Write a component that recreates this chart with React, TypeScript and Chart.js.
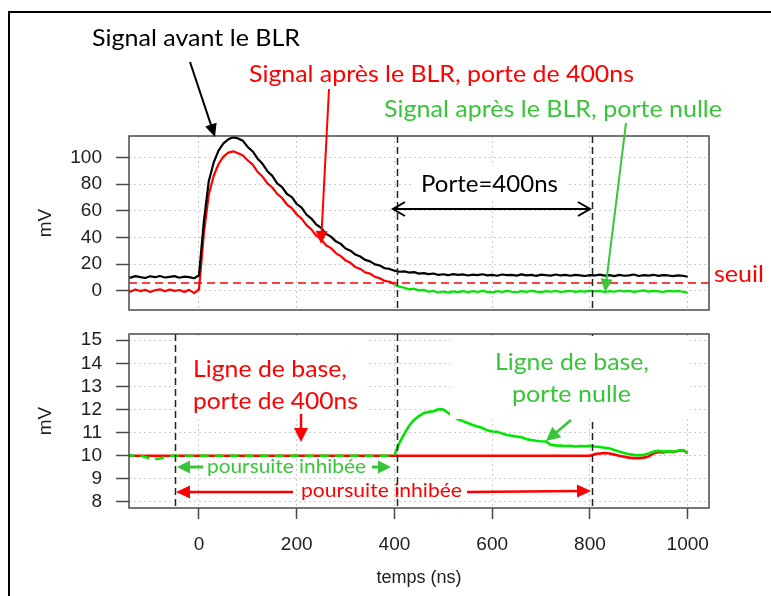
import { useEffect, useRef } from "react";
import { Chart, registerables } from "chart.js";

Chart.register(...registerables);

// ---------- DATA ----------
const times = [
  -150, -140, -130, -120, -110, -100, -90, -80, -70, -60, -50, -40, -30, -20, -10,
  0, 10, 20, 30, 40, 50, 60, 70, 80, 90, 100, 110, 120, 130, 140, 150, 160, 170, 180, 190,
  200, 210, 220, 230, 240, 250, 260, 270, 280, 290, 300, 310, 320, 330, 340, 350, 360, 370, 380, 390,
  400, 410, 420, 430, 440, 450, 460, 470, 480, 490, 500, 510, 520, 530, 540, 550, 560, 570, 580, 590,
  600, 610, 620, 630, 640, 650, 660, 670, 680, 690, 700, 710, 720, 730, 740, 750, 760, 770, 780, 790,
  800, 810, 820, 830, 840, 850, 860, 870, 880, 890, 900, 910, 920, 930, 940, 950, 960, 970, 980, 990,
  1000,
];

// Top panel (mV): signal before BLR, from -150 ns
const topBlack = [
  10.5, 9.8, 10.9, 10.2, 9.5, 10.8, 10.1, 11.0, 9.9, 10.4, 10.9, 9.7, 10.5, 10.2, 9.3,
  11.5, 52, 82, 96, 105, 110.5, 113.5, 115, 114.2, 112.4, 107.6, 104.4, 99.0, 95.1, 89.6, 86.1, 80.5, 77.6, 72.5, 70.1,
  65.0, 62.2, 57.0, 54.1, 49.6, 47.1, 42.6, 40.5, 37.0, 35.1, 31.6, 30.0, 27.1, 25.6, 23.1, 22.0, 19.7, 18.9, 16.8, 16.3,
  15, 14.2, 14.5, 13.6, 13.9, 12.8, 13.2, 12.4, 12.9, 11.8, 12.3, 11.6, 12.4, 11.9, 12.2, 11.4, 12.0, 11.7, 12.3, 11.5,
  11.9, 11.2, 12.1, 11.6, 11.9, 11.3, 12.2, 11.5, 11.8, 11.1, 12.0, 11.6, 11.3, 12.1, 11.4, 11.8, 11.2, 11.9, 11.5, 11.0,
  11.7, 11.4, 12.0, 11.3, 11.6, 10.9, 11.8, 11.2, 11.5, 12.1, 11.0, 11.7, 11.3, 11.9, 11.1, 11.6, 11.4, 10.9, 11.5, 11.2,
  10.4,
];
// Top panel: signal after BLR, gate 400 ns, from -150 ns to 400 ns
const topRed = [
  0.4, -0.7, 0.9, -0.3, 0.6, -1.0, 0.3, 1.0, -0.5, 0.8, -0.2, 0.5, -0.9, 0.6, -1.8,
  1.0, 43, 72, 86, 95, 100.5, 103.5, 104.5, 103.0, 101.4, 97.6, 94.5, 89.0, 85.6, 80.5, 77.4, 72.6, 69.5, 64.6, 61.9,
  57.1, 54.0, 49.1, 46.0, 41.2, 38.5, 34.1, 31.9, 28.2, 25.9, 22.7, 20.9, 17.7, 16.3, 13.7, 12.8, 10.3, 9.3, 7.3, 6.7,
  5,
];
// Top panel: signal after BLR, null gate, from 400 ns
const topGreen = [
  4.5, 3.0, 2.2, 1.0, 1.5, 0.2, 0.6, -0.8, -0.2, -1.4, -0.6, -1.5, -0.5, -1.1, -0.3, -1.2, -0.4, -1.0, -0.2, -0.9,
  -1.3, -0.4, -1.0, -0.2, -0.8, -1.2, -0.3, -0.9, -0.1, -0.7, -1.1, -0.3, -0.8, -0.2, -1.0, -0.5, -0.1, -0.9, -0.4, -0.7,
  0.0, -0.6, -0.2, -1.0, -0.3, -0.8, 0.1, -0.6, -0.2, -0.9, -0.4, 0.2, -0.7, -0.1, -0.5, -1.0, -0.2, -0.6, -0.1, -0.8,
  -1.6,
];
// Bottom panel (mV): baseline, gate 400 ns, from -150 ns
const botRed = [
  10, 10, 10, 10, 10, 10, 10, 10, 10, 10, 10, 10, 10, 10, 10,
  10, 10, 10, 10, 10, 10, 10, 10, 10, 10, 10, 10, 10, 10, 10, 10, 10, 10, 10, 10,
  10, 10, 10, 10, 10, 10, 10, 10, 10, 10, 10, 10, 10, 10, 10, 10, 10, 10, 10, 10,
  10, 10, 10, 10, 10, 10, 10, 10, 10, 10, 10, 10, 10, 10, 10, 10, 10, 10, 10, 10,
  10, 10, 10, 10, 10, 10, 10, 10, 10, 10, 10, 10, 10, 10, 10, 10, 10, 10, 10, 10,
  10.0, 10.07, 10.1, 10.12, 10.1, 10.05, 10.0, 9.96, 9.92, 9.9, 9.9, 9.92, 9.97, 10.1, 10.16, 10.14, 10.19, 10.16, 10.21, 10.24,
  10.12,
];
// Bottom panel: baseline, null gate, from -150 ns
const botGreen = [
  10.0, 10.02, 9.98, 10.0, 9.95, 9.88, 9.86, 9.88, 9.95, 9.99, 10.0, 10, 10, 10, 10,
  10, 10, 10, 10, 10, 10, 10, 10, 10, 10, 10, 10, 10, 10, 10, 10, 10, 10, 10, 10,
  10, 10, 10, 10, 10, 10, 10, 10, 10, 10, 10, 10, 10, 10, 10, 10, 10, 10, 10, 10,
  10.02, 10.55, 10.95, 11.3, 11.55, 11.72, 11.85, 11.9, 11.93, 12.02, 12.0, 11.85, 11.7, 11.58, 11.5, 11.42, 11.33, 11.27, 11.2, 11.1,
  11.05, 11.04, 10.97, 10.9, 10.87, 10.83, 10.8, 10.72, 10.68, 10.65, 10.63, 10.62, 10.47, 10.45, 10.44, 10.42, 10.43, 10.4, 10.42, 10.41,
  10.43, 10.4, 10.38, 10.35, 10.32, 10.25, 10.18, 10.12, 10.07, 10.04, 10.03, 10.04, 10.1, 10.18, 10.22, 10.18, 10.2, 10.17, 10.22, 10.25,
  10.12,
];

const xTicks = [0, 200, 400, 600, 800, 1000];
const yTicksTop = [0, 20, 40, 60, 80, 100];
const yTicksBottom = [8, 9, 10, 11, 12, 13, 14, 15];
const seuil = 5.5;
const gatesTop = [405, 805];
const gatesBottom = [-49, 405, 805];
const dashedStart = 400; // bottom panel: overlap drawn dashed before this time

// ---------- STYLE / LAYOUT ----------
const W = 771;
const H = 596;
const X_MIN = -143.2;
const X_MAX = 1043.6;
const AXIS_FONT = "'Liberation Sans', Arial, Helvetica, sans-serif";
const NOTE_FONT = "Lato, 'Open Sans', 'Noto Sans', sans-serif";
const GRID = "#cdcdcd";
const AXIS = "#4a4a4a";
const LABEL = "#202020";
const RED = "#ff0000";
const LINE_GREEN = "#00e600";
const NOTE_GREEN = "#38c638";

function series(values: number[], startTime: number) {
  const s = times.indexOf(startTime);
  return values.map((v, i) => ({ x: times[s + i], y: v }));
}

// text annotations: text, left, right, baseline, size, color
const notes: [string, number, number, number, number, string][] = [
  ["Signal avant le BLR", 92, 300, 46, 24, "#000"],
  ["Signal après le BLR, porte de 400ns", 249, 634, 82, 24, RED],
  ["Signal après le BLR, porte nulle", 384, 722, 117, 24, NOTE_GREEN],
  ["Porte=400ns", 421, 558, 192, 24, "#000"],
  ["seuil", 714, 764, 282, 24, RED],
  ["Ligne de base,", 193, 347, 377, 24, RED],
  ["porte de 400ns", 193, 358, 409, 24, RED],
  ["Ligne de base,", 495, 649, 370, 24, NOTE_GREEN],
  ["porte nulle", 512, 631, 402, 24, NOTE_GREEN],
  ["poursuite inhibée", 207, 366, 473, 20, NOTE_GREEN],
  ["poursuite inhibée", 301, 462, 497, 20, RED],
];
// arrows: x1, y1, x2(tip), y2(tip), color, width, headLen, headHalf, open
const arrows: [number, number, number, number, string, number, number, number, boolean][] = [
  [190, 62, 215, 137, "#000", 2, 13, 6, false],
  [329, 89, 321, 244, RED, 2, 13, 6, false],
  [626, 123, 605, 292, NOTE_GREEN, 2, 13, 6, false],
  [491, 209, 393, 209, "#000", 2, 12, 7, true],
  [491, 209, 590, 209, "#000", 2, 12, 7, true],
  [301, 414, 301, 442, RED, 2.5, 14, 7, false],
  [571, 420, 546, 441, NOTE_GREEN, 2.5, 14, 7, false],
  [203, 467, 177, 467, NOTE_GREEN, 3, 13, 6.5, false],
  [372, 467, 391, 467, NOTE_GREEN, 3, 13, 6.5, false],
  [293, 492, 176, 492, RED, 2.5, 14, 6.5, false],
  [467, 492, 591, 491, RED, 2.5, 14, 6.5, false],
];
const whiteBoxesTop = [[414, 163, 568, 201]];
const whiteBoxesBottom = [
  [178, 336, 366, 416],
  [450, 336, 690, 419],
];

function fitText(ctx: CanvasRenderingContext2D, t: string, x1: number, x2: number, base: number, size: number, color: string) {
  ctx.save();
  ctx.font = `${size}px ${NOTE_FONT}`;
  const w = ctx.measureText(t).width;
  ctx.translate(x1, base);
  ctx.scale((x2 - x1) / w, 1);
  ctx.fillStyle = color;
  ctx.textAlign = "left";
  ctx.textBaseline = "alphabetic";
  ctx.fillText(t, 0, 0);
  ctx.restore();
}

function drawArrow(ctx: CanvasRenderingContext2D, a: any[]) {
  const [x1, y1, x2, y2, color, lw, len, half, open] = a;
  const ang = Math.atan2(y2 - y1, x2 - x1);
  const c = Math.cos(ang);
  const s = Math.sin(ang);
  ctx.save();
  ctx.setLineDash([]);
  ctx.strokeStyle = color;
  ctx.fillStyle = color;
  ctx.lineWidth = lw;
  ctx.lineCap = "butt";
  ctx.lineJoin = "miter";
  const ex = open ? x2 - c * 1 : x2 - c * len * 0.7;
  const ey = open ? y2 - s * 1 : y2 - s * len * 0.7;
  ctx.beginPath();
  ctx.moveTo(x1, y1);
  ctx.lineTo(ex, ey);
  ctx.stroke();
  const bx = x2 - c * len;
  const by = y2 - s * len;
  const px = -s * half;
  const py = c * half;
  ctx.beginPath();
  ctx.moveTo(bx + px, by + py);
  ctx.lineTo(x2, y2);
  ctx.lineTo(bx - px, by - py);
  if (open) {
    ctx.stroke();
  } else {
    ctx.closePath();
    ctx.fill();
  }
  ctx.restore();
}

const annotPlugin = {
  id: "annot",
  afterDatasetsDraw(chart: any, _args: any, opts: any) {
    const { ctx, chartArea: a, scales } = chart;
    const xs = scales.x;
    const ys = scales.y;
    ctx.save();
    ctx.beginPath();
    ctx.rect(a.left, a.top, a.right - a.left, a.bottom - a.top);
    ctx.clip();
    // gate lines
    ctx.strokeStyle = "#222222";
    ctx.lineWidth = 1.5;
    ctx.setLineDash([7, 4]);
    for (const g of opts.gates || []) {
      const px = Math.round(xs.getPixelForValue(g)) + 0.5;
      ctx.beginPath();
      ctx.moveTo(px, a.top);
      ctx.lineTo(px, a.bottom);
      ctx.stroke();
    }
    if (typeof opts.seuil === "number") {
      const py = Math.round(ys.getPixelForValue(opts.seuil));
      ctx.strokeStyle = "rgb(255,0,0)";
      ctx.lineWidth = 1.4;
      ctx.setLineDash([8, 5]);
      ctx.beginPath();
      ctx.moveTo(a.left, py);
      ctx.lineTo(a.right, py);
      ctx.stroke();
    }
    ctx.setLineDash([]);
    ctx.fillStyle = "#ffffff";
    for (const b of opts.boxes || []) ctx.fillRect(b[0], b[1], b[2] - b[0], b[3] - b[1]);
    ctx.restore();
    // plot box
    ctx.save();
    ctx.setLineDash([]);
    ctx.strokeStyle = AXIS;
    ctx.lineWidth = 1.5;
    ctx.strokeRect(a.left, a.top, a.right - a.left, a.bottom - a.top);
    ctx.restore();
  },
  afterDraw(chart: any, _args: any, opts: any) {
    if (!opts.overlay) return;
    const ctx = chart.ctx;
    ctx.save();
    ctx.strokeStyle = "#000";
    ctx.lineWidth = 2;
    ctx.setLineDash([]);
    ctx.beginPath();
    ctx.moveTo(9, H);
    ctx.lineTo(9, 12);
    ctx.lineTo(W, 12);
    ctx.stroke();
    ctx.restore();
    for (const n of notes) fitText(ctx, n[0], n[1], n[2], n[3], n[4], n[5]);
    for (const a of arrows) drawArrow(ctx, a);
  },
};

function xScale(withLabels: boolean) {
  return {
    type: "linear",
    min: X_MIN,
    max: X_MAX,
    afterBuildTicks: (s: any) => {
      s.ticks = xTicks.map((v) => ({ value: v }));
    },
    afterFit: (s: any) => {
      s.height = withLabels ? H - 508 : 0;
    },
    grid: {
      color: GRID,
      lineWidth: 1,
      drawTicks: withLabels,
      tickLength: 11,
      tickColor: AXIS,
      tickWidth: 1.5,
      tickBorderDash: [],
    },
    border: { display: false, dash: [2, 3] },
    ticks: {
      display: withLabels,
      autoSkip: false,
      maxRotation: 0,
      padding: 14,
      color: LABEL,
      font: { family: AXIS_FONT, size: 19 },
      callback: (v: any) => String(v),
    },
    title: {
      display: withLabels,
      text: "temps (ns)",
      color: LABEL,
      font: { family: AXIS_FONT, size: 18 },
      padding: { top: 0, bottom: 7 },
    },
  };
}

function yScale(min: number, max: number, ticks: number[]) {
  return {
    type: "linear",
    min,
    max,
    afterBuildTicks: (s: any) => {
      s.ticks = ticks.map((v) => ({ value: v }));
    },
    afterFit: (s: any) => {
      s.width = 129;
    },
    grid: {
      color: GRID,
      lineWidth: 1,
      drawTicks: true,
      tickLength: 13,
      tickColor: AXIS,
      tickWidth: 1.5,
      tickBorderDash: [],
    },
    border: { display: false, dash: [2, 3] },
    ticks: {
      autoSkip: false,
      padding: 14,
      color: LABEL,
      font: { family: AXIS_FONT, size: 19 },
      callback: (v: any) => String(v),
    },
    title: {
      display: true,
      text: "mV",
      color: LABEL,
      font: { family: AXIS_FONT, size: 19 },
      padding: { top: 34, bottom: 0 },
    },
  };
}

const lineDs = (data: any[], color: string, width: number, extra: any = {}) => ({
  data,
  borderColor: color,
  backgroundColor: color,
  borderWidth: width,
  pointRadius: 0,
  tension: 0,
  fill: false,
  borderJoinStyle: "round",
  ...extra,
});

export default function App() {
  const topRef = useRef<HTMLCanvasElement>(null);
  const botRef = useRef<HTMLCanvasElement>(null);

  useEffect(() => {
    const common = {
      responsive: false,
      animation: false,
      devicePixelRatio: 1,
      events: [],
    };
    const c1 = new Chart(topRef.current as HTMLCanvasElement, {
      type: "line",
      data: {
        datasets: [
          lineDs(series(topBlack, -150), "#000", 2.2),
          lineDs(series(topRed, -150), RED, 2.2),
          lineDs(series(topGreen, 400), LINE_GREEN, 2.2),
        ],
      },
      options: {
        ...common,
        layout: { padding: { left: 0, top: 136, right: W - 709, bottom: H - 310 } },
        scales: { x: xScale(false), y: yScale(-14.5, 116, yTicksTop) },
        plugins: {
          legend: { display: false },
          tooltip: { enabled: false },
          annot: { gates: gatesTop, seuil, boxes: whiteBoxesTop, overlay: false },
        },
      } as any,
      plugins: [annotPlugin],
    });
    const c2 = new Chart(botRef.current as HTMLCanvasElement, {
      type: "line",
      data: {
        datasets: [
          lineDs(series(botGreen, -150), LINE_GREEN, 2.6, {
            segment: {
              borderDash: (c: any) => (c.p1.parsed.x <= dashedStart ? [9, 6] : undefined),
            },
          }),
          lineDs(series(botRed, -150), RED, 2.6),
        ],
      },
      options: {
        ...common,
        layout: { padding: { left: 0, top: 334, right: W - 709, bottom: 0 } },
        scales: { x: xScale(true), y: yScale(7.74, 15.27, yTicksBottom) },
        plugins: {
          legend: { display: false },
          tooltip: { enabled: false },
          annot: { gates: gatesBottom, boxes: whiteBoxesBottom, overlay: true },
        },
      } as any,
      plugins: [annotPlugin],
    });
    return () => {
      c1.destroy();
      c2.destroy();
    };
  }, []);

  return (
    <div style={{ position: "absolute", left: 0, top: 0, width: W, height: H, background: "#fff", overflow: "hidden" }}>
      <canvas ref={topRef} width={W} height={H} style={{ position: "absolute", left: 0, top: 0 }} />
      <canvas ref={botRef} width={W} height={H} style={{ position: "absolute", left: 0, top: 0 }} />
    </div>
  );
}
